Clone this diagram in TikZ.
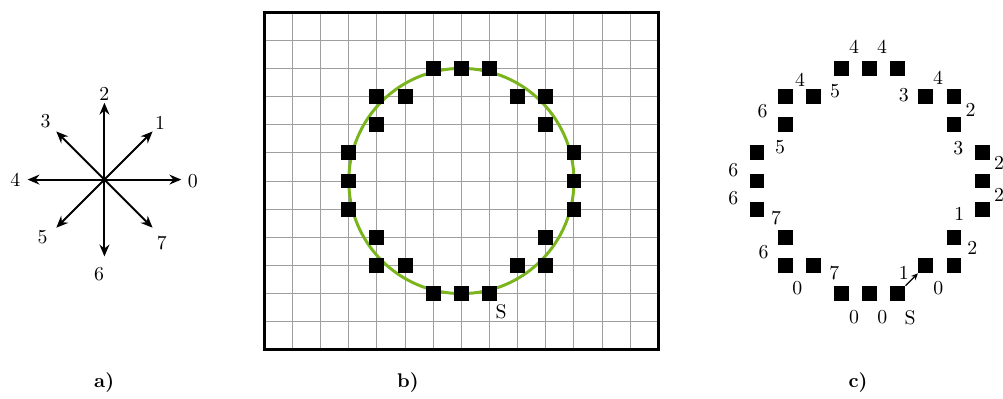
\documentclass[tikz,border=0pt]{standalone}
\usetikzlibrary{arrows.meta}
\definecolor{ringgreen}{RGB}{122,181,29}

\begin{document}
\begin{tikzpicture}[x=0.5cm,y=0.5cm,
  pixel/.style={fill=black,inner sep=0pt,minimum size=0.265cm},
  dirarrow/.style={line width=1pt,-{Stealth[length=6pt,width=5pt,inset=2pt]}}]
\useasboundingbox (-9.39,-1.74) rectangle (26.24,12.43);
% a) the eight chain directions
\coordinate (o) at (-5.68,6.05);
\foreach \n/\ex/\ey/\lx/\ly in {0/2.73/0/3.14/-0.06, 1/1.71/1.71/1.98/2.01,
  2/0/2.73/0/3.04, 3/-1.71/1.71/-2.09/2.07, 4/-2.73/0/-3.17/-0.02,
  5/-1.71/-1.71/-2.2/-2.04, 6/0/-2.73/-0.19/-3.36, 7/1.71/-1.71/2.04/-2.25}
{
  \path (o) ++(\ex,\ey) coordinate (d\n);
  \draw[dirarrow] (o) -- (d\n);
  \path (o) ++(\lx,\ly) node (l\n) {\n};
}
% b) boundary pixels on the grid
\draw[gray!75,line width=0.5pt,step=0.5cm] (0,0) grid (14,12);
\draw[line width=1.5pt] (0,0) rectangle (14,12);
\draw[ringgreen,line width=1.5pt] (7,6) circle (4);
\foreach \x/\y in {6/10,7/10,8/10,9/9,10/9,10/8,11/7,11/6,11/5,10/4,10/3,9/3,
  8/2,7/2,6/2,5/3,4/3,4/4,3/5,3/6,3/7,4/8,4/9,5/9}
  \node[pixel] (b\x-\y) at (\x,\y) {};
\node (bS) at (8.41,1.36) {S};
% c) chain code
\begin{scope}[shift={(14.5,0)}]
\foreach \x/\y in {6/10,7/10,8/10,9/9,10/9,10/8,11/7,11/6,11/5,10/4,10/3,9/3,
  8/2,7/2,6/2,5/3,4/3,4/4,3/5,3/6,3/7,4/8,4/9,5/9}
  \node[pixel] (c\x-\y) at (\x,\y) {};
\draw[semithick,-{Stealth[length=3.5pt,width=3pt]}] (c8-2.north east) -- (c9-3.south west);
\foreach \t/\x/\y [count=\i] in {1/8.22/2.75, 0/9.44/2.21, 2/10.65/3.61, 1/10.19/4.82,
  2/11.60/5.51, 2/11.60/6.64, 3/10.15/7.17, 2/10.59/8.53, 4/9.43/9.66, 3/8.22/9.06,
  4/7.44/10.77, 4/6.45/10.77, 5/5.77/9.20, 4/4.53/9.59, 6/3.20/8.47, 5/3.82/7.20,
  6/2.16/6.39, 6/2.16/5.39, 7/3.68/4.70, 6/3.23/3.46, 0/4.43/2.21, 7/5.75/2.73,
  0/6.45/1.18, 0/7.45/1.18}
  \node (code\i) at (\x,\y) {\t};
\node (cS) at (8.44,1.16) {S};
\end{scope}
% captions
\node[font=\bfseries] (capa) at (-5.69,-1.17) {a)};
\node[font=\bfseries] (capb) at (5.10,-1.17) {b)};
\node[font=\bfseries] (capc) at (21.09,-1.17) {c)};
\end{tikzpicture}
\end{document}
